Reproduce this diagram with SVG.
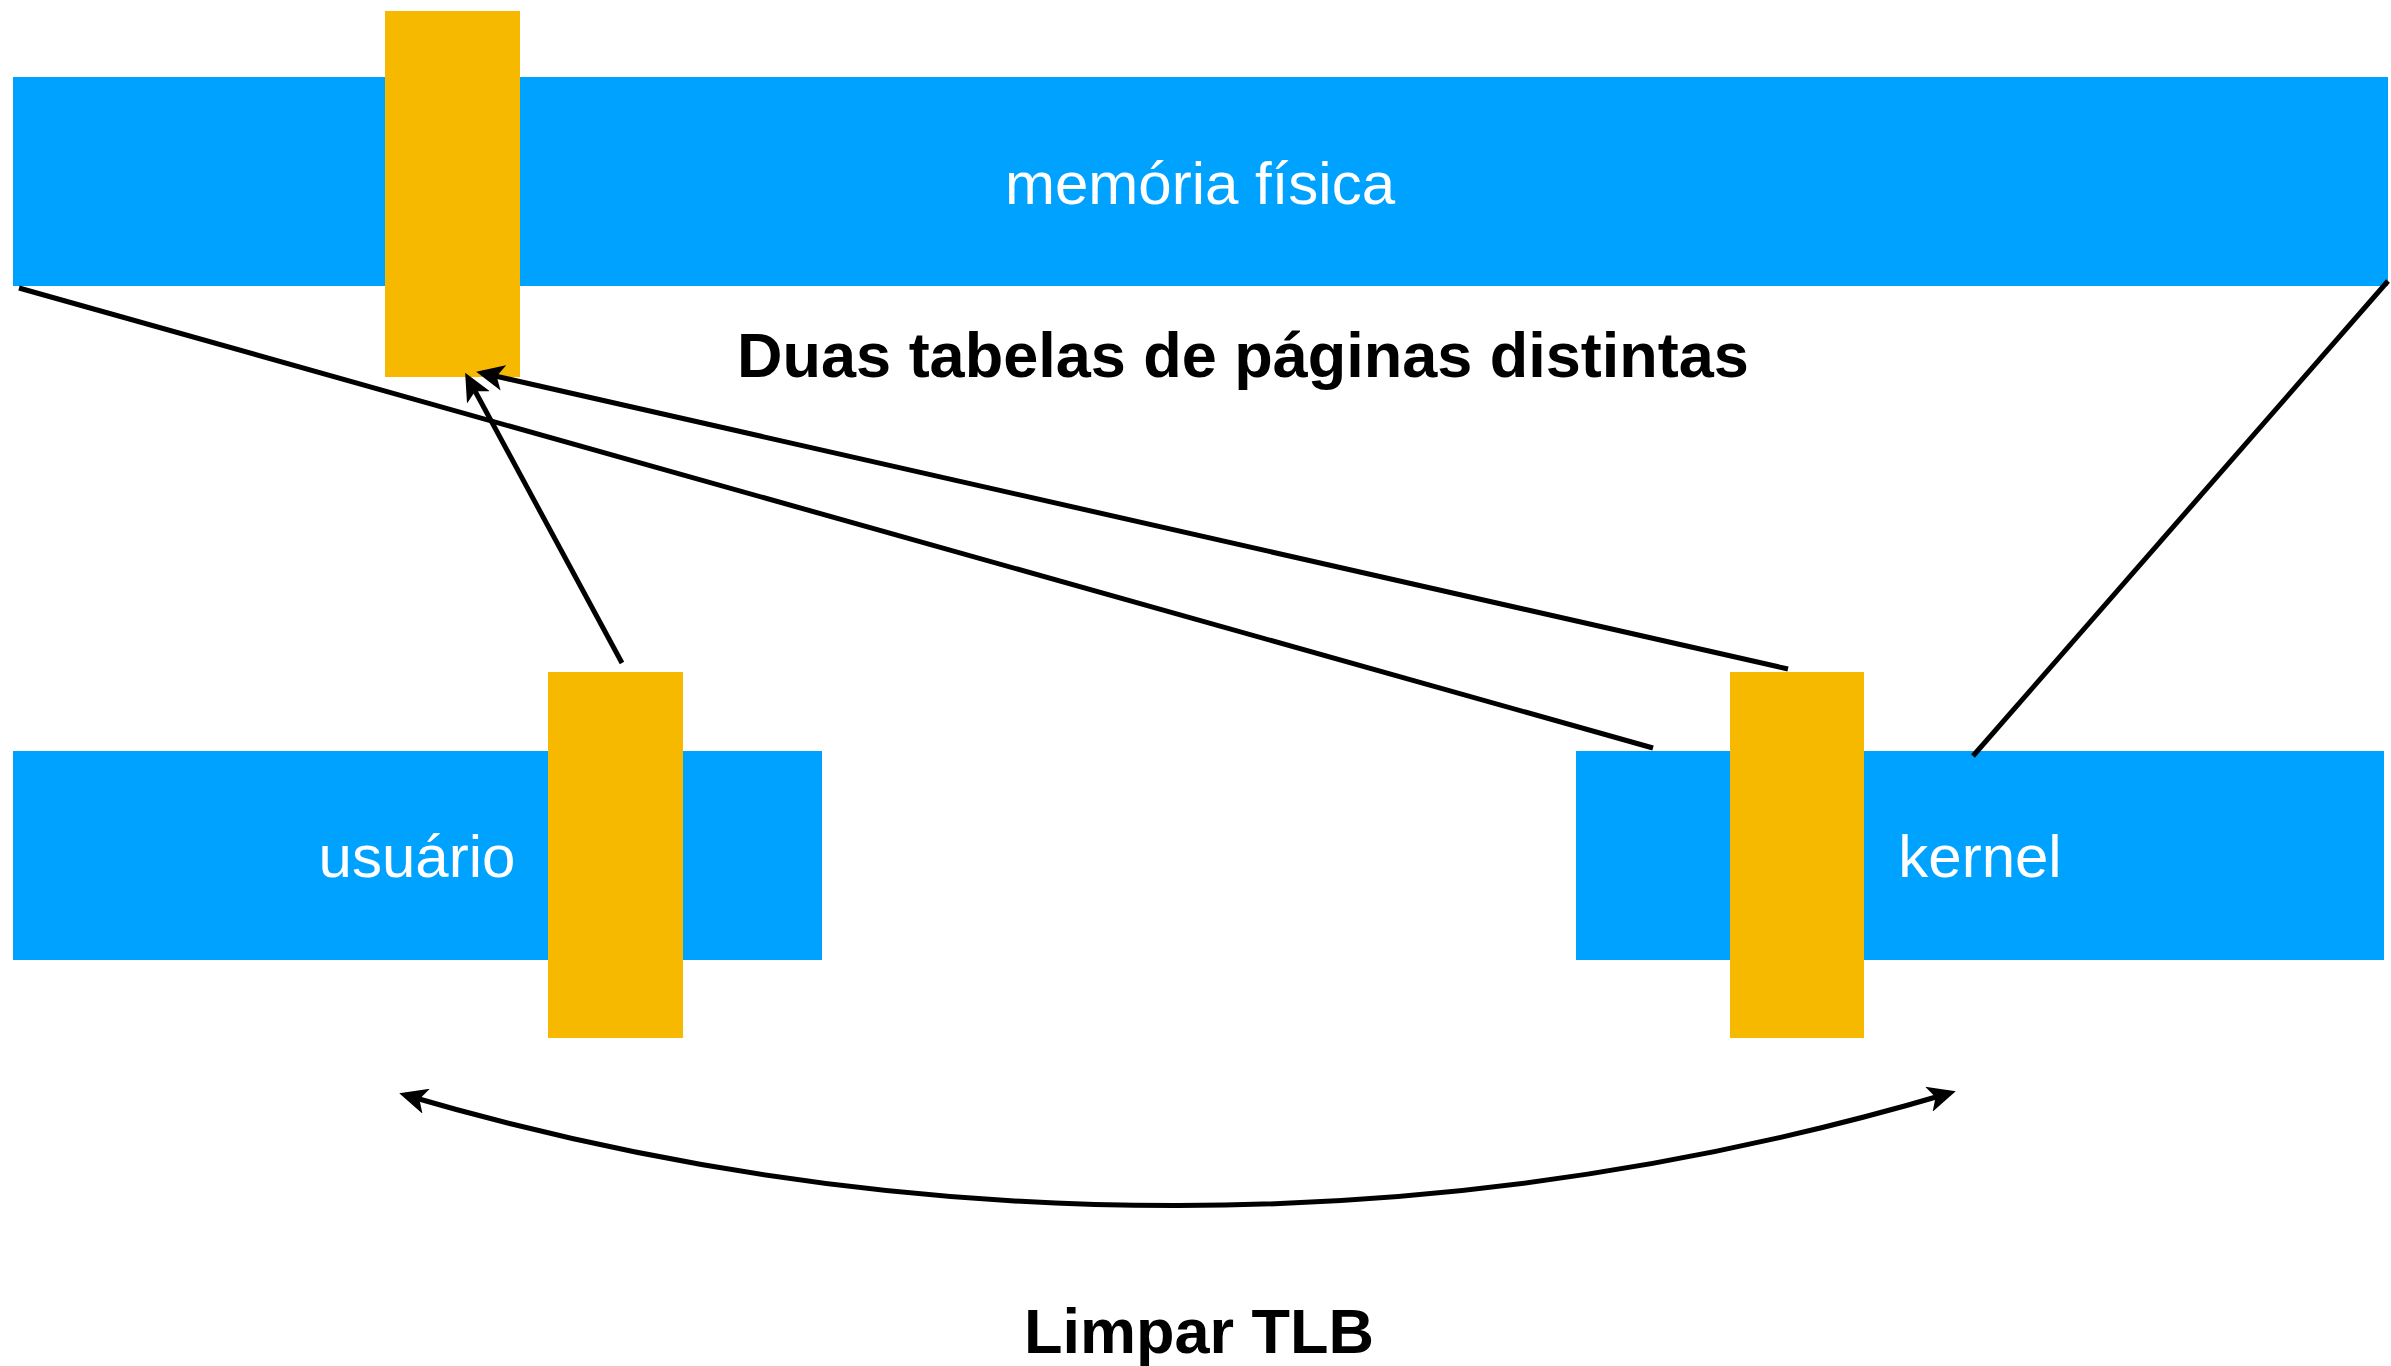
<svg xmlns="http://www.w3.org/2000/svg" width="2391" height="1366" viewBox="0 0 2391 1366">
  <style>
    .bar { fill: #00A2FF; }
    .page { fill: #F6B900; }
    .lbl { font-family: "Liberation Sans", Arial, sans-serif; font-size: 60px; fill: #FFFFFF; text-anchor: middle; }
    .title { font-family: "Liberation Sans", Arial, sans-serif; font-size: 63px; font-weight: bold; fill: #000000; text-anchor: middle; }
    .conn { fill: none; stroke: #000000; stroke-width: 5; }
  </style>
  <defs>
    <marker id="arr" viewBox="0 0 28 26" refX="22" refY="13" markerWidth="28" markerHeight="26" markerUnits="userSpaceOnUse" orient="auto-start-reverse">
      <path d="M0,0 L28,13 L0,26 L7,13 z" fill="#000000"/>
    </marker>
  </defs>
  <rect width="2391" height="1366" fill="#FFFFFF"/>

  <g id="memoria-fisica">
    <rect class="bar" x="13" y="77" width="2375" height="209"/>
    <text class="lbl" x="1200" y="204">memória física</text>
  </g>

  <g id="usuario">
    <rect class="bar" x="13" y="751" width="809" height="209"/>
    <text class="lbl" x="417" y="877">usuário</text>
  </g>

  <g id="kernel">
    <rect class="bar" x="1576" y="751" width="808" height="209"/>
    <text class="lbl" x="1980" y="877">kernel</text>
  </g>

  <g id="pagina-fisica">
    <rect class="page" x="385" y="11" width="135" height="366"/>
  </g>

  <g id="pagina-usuario">
    <rect class="page" x="548" y="672" width="135" height="366"/>
  </g>

  <g id="pagina-kernel">
    <rect class="page" x="1730" y="672" width="134" height="366"/>
  </g>

  <g id="connectors">
    <line class="conn" x1="19" y1="288" x2="1653" y2="748"/>
    <line class="conn" x1="2388" y1="281" x2="1973" y2="756"/>
    <line class="conn" x1="622" y1="663" x2="468" y2="378" marker-end="url(#arr)"/>
    <line class="conn" x1="1788" y1="669" x2="482" y2="373" marker-end="url(#arr)"/>
    <path class="conn" d="M405,1095 A2731,2731 0 0 0 1950,1093" marker-start="url(#arr)" marker-end="url(#arr)"/>
  </g>

  <g id="labels">
    <text class="title" x="1243" y="377">Duas tabelas de páginas distintas</text>
    <text class="title" x="1199" y="1353">Limpar TLB</text>
  </g>
</svg>
